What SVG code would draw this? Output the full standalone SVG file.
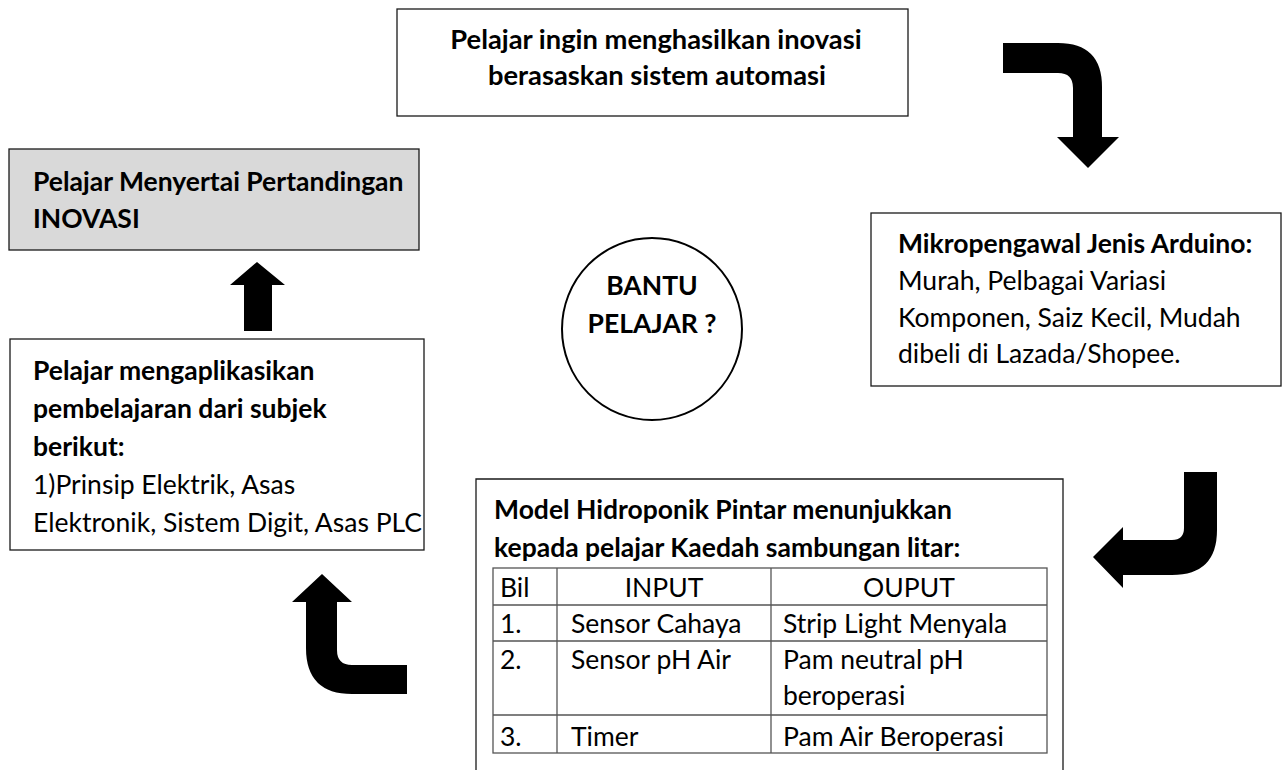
<svg xmlns="http://www.w3.org/2000/svg" width="1287" height="770" viewBox="0 0 1287 770">
<style>
.box{fill:#fff;stroke:#1a1a1a;stroke-width:1.3}
.gray{fill:#d9d9d9;stroke:#1a1a1a;stroke-width:1.3}
.t{font-family:Lato,"Open Sans","Liberation Sans",sans-serif;font-size:26.5px;fill:#000}
.b{font-weight:bold}
.c{text-anchor:middle}
.big{font-size:27.3px}
.grid{stroke:#555;stroke-width:1.3;fill:none}
.arrow{fill:#000;stroke:none}
</style>
<rect width="1287" height="770" fill="#fff"/>
<g id="connectors">
<path class="arrow" d="M1003,43 L1058,43 Q1102,43 1102,87 L1102,137 L1119,137 L1088,168 L1057,137 L1073,137 L1073,88 Q1073,73 1058,73 L1003,73 Z"/>
<path class="arrow" d="M1184,472 L1217,472 L1217,530 Q1217,575 1172,575 L1123,575 L1123,588 L1093,557 L1123,527 L1123,540 L1172,540 Q1184,540 1184,528 Z"/>
<path class="arrow" d="M322,574 L352,602 L337,602 L337,650 Q337,665 352,665 L407,665 L407,694 L352,694 Q306,694 306,648 L306,602 L292,602 Z"/>
<path class="arrow" d="M257,262 L285,285 L272,285 L272,331 L244,331 L244,285 L230,285 Z"/>
</g>
<g id="node-top">
<rect class="box" x="397" y="9" width="511" height="107"/>
<text class="t b c big" x="656" y="49">Pelajar ingin menghasilkan inovasi</text>
<text class="t b c big" x="657" y="85">berasaskan sistem automasi</text>
</g>
<g id="node-pertandingan">
<rect class="gray" x="9" y="149" width="410" height="101"/>
<text class="t b" x="33" y="191">Pelajar Menyertai Pertandingan</text>
<text class="t b" x="33" y="228">INOVASI</text>
</g>
<g id="node-arduino">
<rect class="box" x="871" y="213" width="410" height="173"/>
<text class="t b" x="898" y="253">Mikropengawal Jenis Arduino:</text>
<text class="t" x="898" y="290">Murah, Pelbagai Variasi</text>
<text class="t" x="898" y="327">Komponen, Saiz Kecil, Mudah</text>
<text class="t" x="898" y="363">dibeli di Lazada/Shopee.</text>
</g>
<g id="node-bantu">
<ellipse cx="652" cy="329" rx="90" ry="91" fill="#fff" stroke="#000" stroke-width="2"/>
<text class="t b c" x="652" y="295">BANTU</text>
<text class="t b c" x="652" y="333">PELAJAR ?</text>
</g>
<g id="node-aplikasi">
<rect class="box" x="10" y="339" width="414" height="211"/>
<text class="t b" x="33" y="380">Pelajar mengaplikasikan</text>
<text class="t b" x="33" y="418">pembelajaran dari subjek</text>
<text class="t b" x="33" y="456">berikut:</text>
<text class="t" x="33" y="494">1)Prinsip Elektrik, Asas</text>
<text class="t" x="33" y="532">Elektronik, Sistem Digit, Asas PLC</text>
</g>
<g id="node-hidroponik">
<path class="box" d="M476,772 L476,479 L1063,479 L1063,772"/>
<text class="t b" x="494" y="519">Model Hidroponik Pintar menunjukkan</text>
<text class="t b" x="494" y="557">kepada pelajar Kaedah sambungan litar:</text>
<rect class="grid" x="493" y="568" width="554" height="185"/>
<line class="grid" x1="493" y1="605" x2="1047" y2="605"/>
<line class="grid" x1="493" y1="641" x2="1047" y2="641"/>
<line class="grid" x1="493" y1="715" x2="1047" y2="715"/>
<line class="grid" x1="557" y1="568" x2="557" y2="753"/>
<line class="grid" x1="771" y1="568" x2="771" y2="753"/>
<text class="t" x="500" y="597">Bil</text>
<text class="t c" x="664" y="597">INPUT</text>
<text class="t c" x="909" y="597">OUPUT</text>
<text class="t" x="500" y="633">1.</text>
<text class="t" x="571" y="633">Sensor Cahaya</text>
<text class="t" x="783" y="633">Strip Light Menyala</text>
<text class="t" x="500" y="669">2.</text>
<text class="t" x="571" y="669">Sensor pH Air</text>
<text class="t" x="783" y="669">Pam neutral pH</text>
<text class="t" x="783" y="705">beroperasi</text>
<text class="t" x="500" y="746">3.</text>
<text class="t" x="571" y="746">Timer</text>
<text class="t" x="783" y="746">Pam Air Beroperasi</text>
</g>
</svg>
